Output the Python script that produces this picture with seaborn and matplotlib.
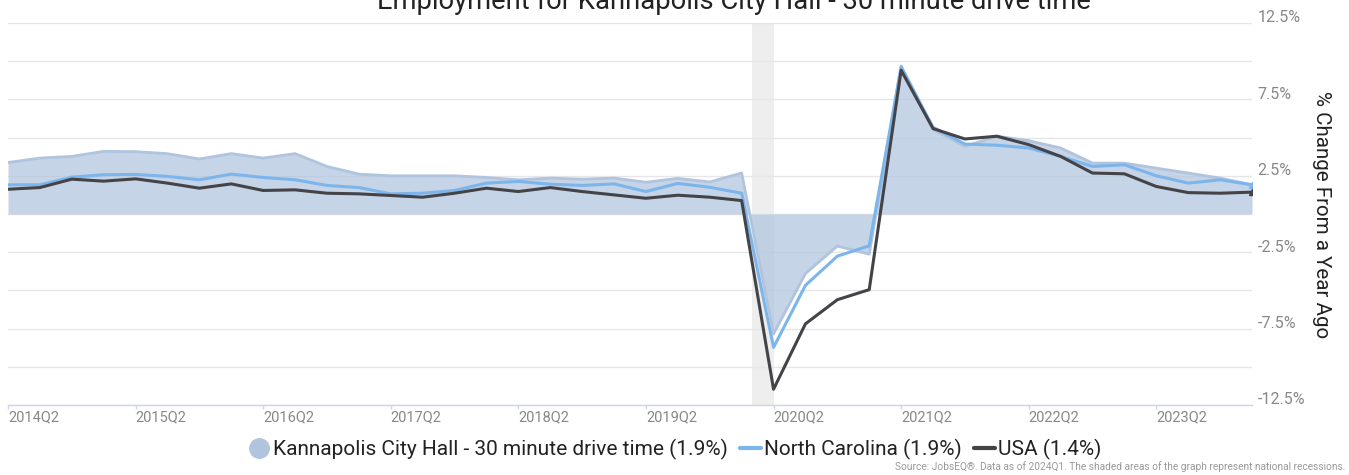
import numpy as np
import pandas as pd
import matplotlib
matplotlib.use("Agg")
import matplotlib.pyplot as plt
import matplotlib.transforms as mtransforms
from matplotlib.lines import Line2D
import seaborn as sns

# quarterly data, 2014Q2 .. 2024Q1 (% change from a year ago)
region = [3.37, 3.66, 3.77, 4.10, 4.08, 3.95, 3.60, 3.95, 3.66, 3.95,
          3.11, 2.61, 2.50, 2.50, 2.50, 2.39, 2.24, 2.35, 2.28, 2.35,
          2.08, 2.33, 2.10, 2.68, -7.85, -3.90, -2.10, -2.63, 9.69, 5.53,
          4.43, 5.09, 4.80, 4.32, 3.33, 3.33, 3.00, 2.68, 2.35, 1.91]
nc = [1.91, 1.91, 2.41, 2.57, 2.59, 2.46, 2.24, 2.61, 2.39, 2.24,
      1.87, 1.73, 1.32, 1.36, 1.54, 2.02, 2.13, 1.95, 1.87, 1.97,
      1.47, 2.00, 1.75, 1.36, -8.73, -4.67, -2.76, -2.08, 9.63, 5.68,
      4.58, 4.50, 4.32, 3.77, 3.11, 3.22, 2.50, 2.02, 2.24, 1.91]
usa = [1.62, 1.73, 2.28, 2.15, 2.30, 2.02, 1.69, 1.97, 1.54, 1.58,
       1.36, 1.32, 1.21, 1.10, 1.36, 1.69, 1.47, 1.73, 1.47, 1.25,
       1.03, 1.23, 1.10, 0.88, -11.47, -7.19, -5.61, -4.95, 9.41, 5.59,
       4.91, 5.09, 4.54, 3.77, 2.68, 2.63, 1.80, 1.40, 1.36, 1.43]
tick_labels = ['2014Q2', '2015Q2', '2016Q2', '2017Q2', '2018Q2',
               '2019Q2', '2020Q2', '2021Q2', '2022Q2', '2023Q2']
y_ticks = [-12.5, -10, -7.5, -5, -2.5, 0, 2.5, 5, 7.5, 10, 12.5]
y_labels = ['-12.5%', '', '-7.5%', '', '-2.5%', '', '2.5%', '', '7.5%', '', '12.5%']
recession = (23.33, 24)  # Feb-Apr 2020 in quarter index units

legend_names = ['Kannapolis City Hall - 30 minute drive time (1.9%)',
                'North Carolina (1.9%)', 'USA (1.4%)']

df = pd.DataFrame({'q': np.arange(len(region)), 'region': region, 'nc': nc, 'usa': usa})

sns.set_theme(style='white')
plt.rcParams['font.family'] = ['Roboto', 'DejaVu Sans']

fig = plt.figure(figsize=(13.49, 4.75), dpi=100)
ax = fig.add_axes([8 / 1349, 1 - 405 / 475, 1244 / 1349, 382 / 475])

ax.axvspan(*recession, color='#eeeeee', zorder=0, lw=0)
ax.fill_between(df['q'], 0, df['region'], color='#b0c4de', alpha=0.72, lw=0, zorder=1)
ax.plot(df['q'], df['region'], color='#b0c4de', lw=2, zorder=1.5)
sns.lineplot(data=df, x='q', y='nc', color='#7cb5ec', lw=2.2, ax=ax, zorder=3)
sns.lineplot(data=df, x='q', y='usa', color='#434348', lw=2.2, ax=ax, zorder=4)
ax.plot(df['q'].iloc[-1], df['nc'].iloc[-1], marker='^', ms=5, color='#7cb5ec', zorder=3)
ax.plot(df['q'].iloc[-1], df['usa'].iloc[-1], marker='^', ms=5, color='#434348', zorder=4)

ax.set_xlim(0, len(region) - 1)
ax.set_ylim(-12.5, 12.5)
ax.set_xlabel('')
ax.set_ylabel('')

ax.set_xticks(np.arange(0, len(region), 4))
ax.set_xticklabels(tick_labels, ha='left', color='#888888', fontsize=10.5)
ax.tick_params(axis='x', length=3, width=1, color='#ccd6eb', pad=1, direction='out', bottom=True)

ax.yaxis.tick_right()
ax.set_yticks(y_ticks)
ax.set_yticklabels(y_labels, color='#888888', fontsize=11.5)
ax.tick_params(axis='y', length=0, pad=4)
shift = mtransforms.ScaledTranslation(0, 6.5 / 100, fig.dpi_scale_trans)
for lab in ax.get_yticklabels():
    lab.set_transform(lab.get_transform() + shift)
ax.grid(axis='y', color='#e6e6e6', lw=1)
ax.grid(axis='x', visible=False)

for s in ['top', 'left', 'right']:
    ax.spines[s].set_visible(False)
ax.spines['bottom'].set_color('#ccd6eb')
ax.spines['bottom'].set_linewidth(1)

fig.text(1322 / 1349, 1 - 215 / 475, '% Change From a Year Ago', rotation=270,
         ha='center', va='center', fontsize=14.8, color='#222222')
fig.text(734 / 1349, 1 - 9 / 475, 'Employment for Kannapolis City Hall - 30 minute drive time',
         ha='center', va='baseline', fontsize=19.7, color='#222222')

handles = [Line2D([], [], ls='none', marker='o', ms=14, color='#b0c4de'),
           Line2D([], [], color='#7cb5ec', lw=3),
           Line2D([], [], color='#434348', lw=3)]
fig.legend(handles, legend_names, loc='center', bbox_to_anchor=(675 / 1349, 1 - 449 / 475),
           ncol=3, frameon=False, fontsize=15, handlelength=1.0, handletextpad=0.15,
           columnspacing=0.6, labelcolor='#222222')

fig.text(1345 / 1349, 1 - 467 / 475,
         'Source: JobsEQ\u00ae. Data as of 2024Q1. The shaded areas of the graph represent national recessions.',
         ha='right', va='center', fontsize=7.3, color='#999999')

fig.savefig('out.png', dpi=100)
